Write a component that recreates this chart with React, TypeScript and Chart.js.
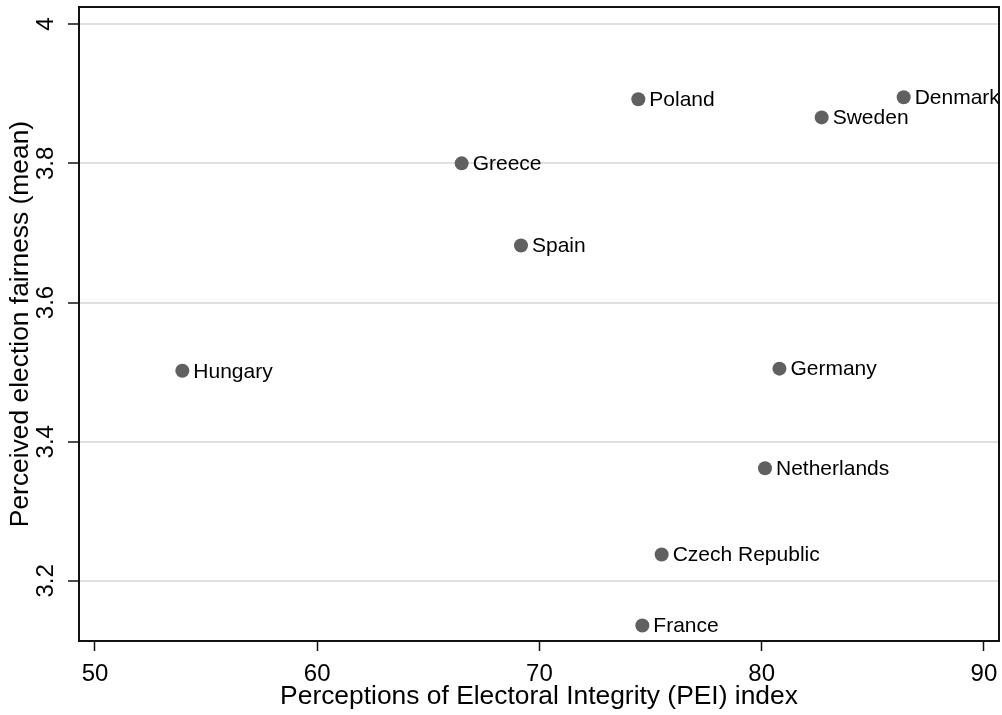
import React, { useEffect, useRef } from "react";
import { Chart, registerables } from "chart.js";

Chart.register(...registerables);

const countries = [
  "Hungary",
  "Greece",
  "Spain",
  "Poland",
  "France",
  "Czech Republic",
  "Netherlands",
  "Germany",
  "Sweden",
  "Denmark",
];
const peiIndex = [53.93, 66.5, 69.17, 74.45, 74.63, 75.5, 80.15, 80.8, 82.7, 86.39];
const fairness = [3.502, 3.8, 3.682, 3.892, 3.136, 3.238, 3.362, 3.505, 3.866, 3.895];
const xTicks = [50, 60, 70, 80, 90];
const yTicks = [3.2, 3.4, 3.6, 3.8, 4];

const FONT = '"Liberation Sans", Arial, Helvetica, sans-serif';

const boxPlugin = {
  id: "boxPlugin",
  beforeDatasetsDraw(chart: any) {
    const { ctx, chartArea } = chart;
    ctx.save();
    ctx.strokeStyle = "#111";
    ctx.lineWidth = 2;
    ctx.strokeRect(
      chartArea.left,
      chartArea.top,
      chartArea.right - chartArea.left,
      chartArea.bottom - chartArea.top
    );
    ctx.restore();
  },
};

const labelPlugin = {
  id: "pointLabels",
  afterDatasetsDraw(chart: any) {
    const { ctx, chartArea } = chart;
    const meta = chart.getDatasetMeta(0);
    ctx.save();
    ctx.beginPath();
    ctx.rect(
      chartArea.left,
      chartArea.top,
      chartArea.right - chartArea.left - 1,
      chartArea.bottom - chartArea.top
    );
    ctx.clip();
    ctx.font = `21px ${FONT}`;
    ctx.fillStyle = "#000";
    ctx.textBaseline = "middle";
    ctx.textAlign = "left";
    meta.data.forEach((pt: any, i: number) => {
      ctx.fillText(countries[i], pt.x + 11, pt.y + 1);
    });
    ctx.restore();
  },
};

export default function App() {
  const ref = useRef<HTMLCanvasElement | null>(null);

  useEffect(() => {
    if (!ref.current) return;
    const chart = new Chart(ref.current, {
      type: "scatter",
      data: {
        datasets: [
          {
            label: "countries",
            data: peiIndex.map((x, i) => ({ x, y: fairness[i] })),
            backgroundColor: "#606060",
            borderWidth: 0,
            pointRadius: 7,
            pointHoverRadius: 7,
          },
        ],
      },
      options: {
        animation: false,
        responsive: false,
        events: [],
        layout: { autoPadding: false, padding: { top: 7, right: 3, left: 0, bottom: 0 } },
        plugins: {
          legend: { display: false },
          tooltip: { enabled: false },
        },
        scales: {
          x: {
            type: "linear",
            min: 49.28,
            max: 90.68,
            afterBuildTicks: (scale: any) => {
              scale.ticks = xTicks.map((v) => ({ value: v }));
            },
            afterFit: (scale: any) => {
              scale.height = 74;
              scale.paddingLeft = 0;
              scale.paddingRight = 0;
            },
            border: { display: false },
            grid: {
              drawOnChartArea: false,
              drawTicks: true,
              tickLength: 10,
              tickColor: "#111",
              tickWidth: 1.5,
            },
            ticks: {
              color: "#000",
              font: { family: FONT, size: 24 },
              padding: 9,
              maxRotation: 0,
              minRotation: 0,
              callback: (v: any) => String(v),
            },
            title: {
              display: true,
              text: "Perceptions of Electoral Integrity (PEI) index",
              color: "#000",
              font: { family: FONT, size: 26.4 },
              padding: { top: 0, bottom: 2.4 },
            },
          },
          y: {
            type: "linear",
            min: 3.1137,
            max: 4.0246,
            afterBuildTicks: (scale: any) => {
              scale.ticks = yTicks.map((v) => ({ value: v }));
            },
            afterFit: (scale: any) => {
              scale.width = 79;
              scale.paddingTop = 0;
              scale.paddingBottom = 0;
            },
            border: { display: false },
            grid: {
              color: "#e0e0e0",
              lineWidth: 2,
              drawTicks: true,
              tickLength: 11,
              tickColor: "#111",
              tickWidth: 1.5,
            },
            ticks: {
              color: "#000",
              font: { family: FONT, size: 24 },
              padding: 5,
              minRotation: 90,
              maxRotation: 90,
              crossAlign: "center",
              callback: (v: any) => String(Number(Number(v).toFixed(1))),
            },
            title: {
              display: true,
              text: "Perceived election fairness (mean)",
              color: "#000",
              font: { family: FONT, size: 26.4 },
              padding: { top: 4.4, bottom: 0 },
            },
          },
        },
      },
      plugins: [boxPlugin, labelPlugin],
    });
    return () => chart.destroy();
  }, []);

  return (
    <div
      style={{
        position: "absolute",
        left: 0,
        top: 0,
        width: 1002,
        height: 715,
        background: "#fff",
      }}
    >
      <canvas ref={ref} width={1002} height={715} style={{ width: 1002, height: 715, display: "block" }} />
    </div>
  );
}
